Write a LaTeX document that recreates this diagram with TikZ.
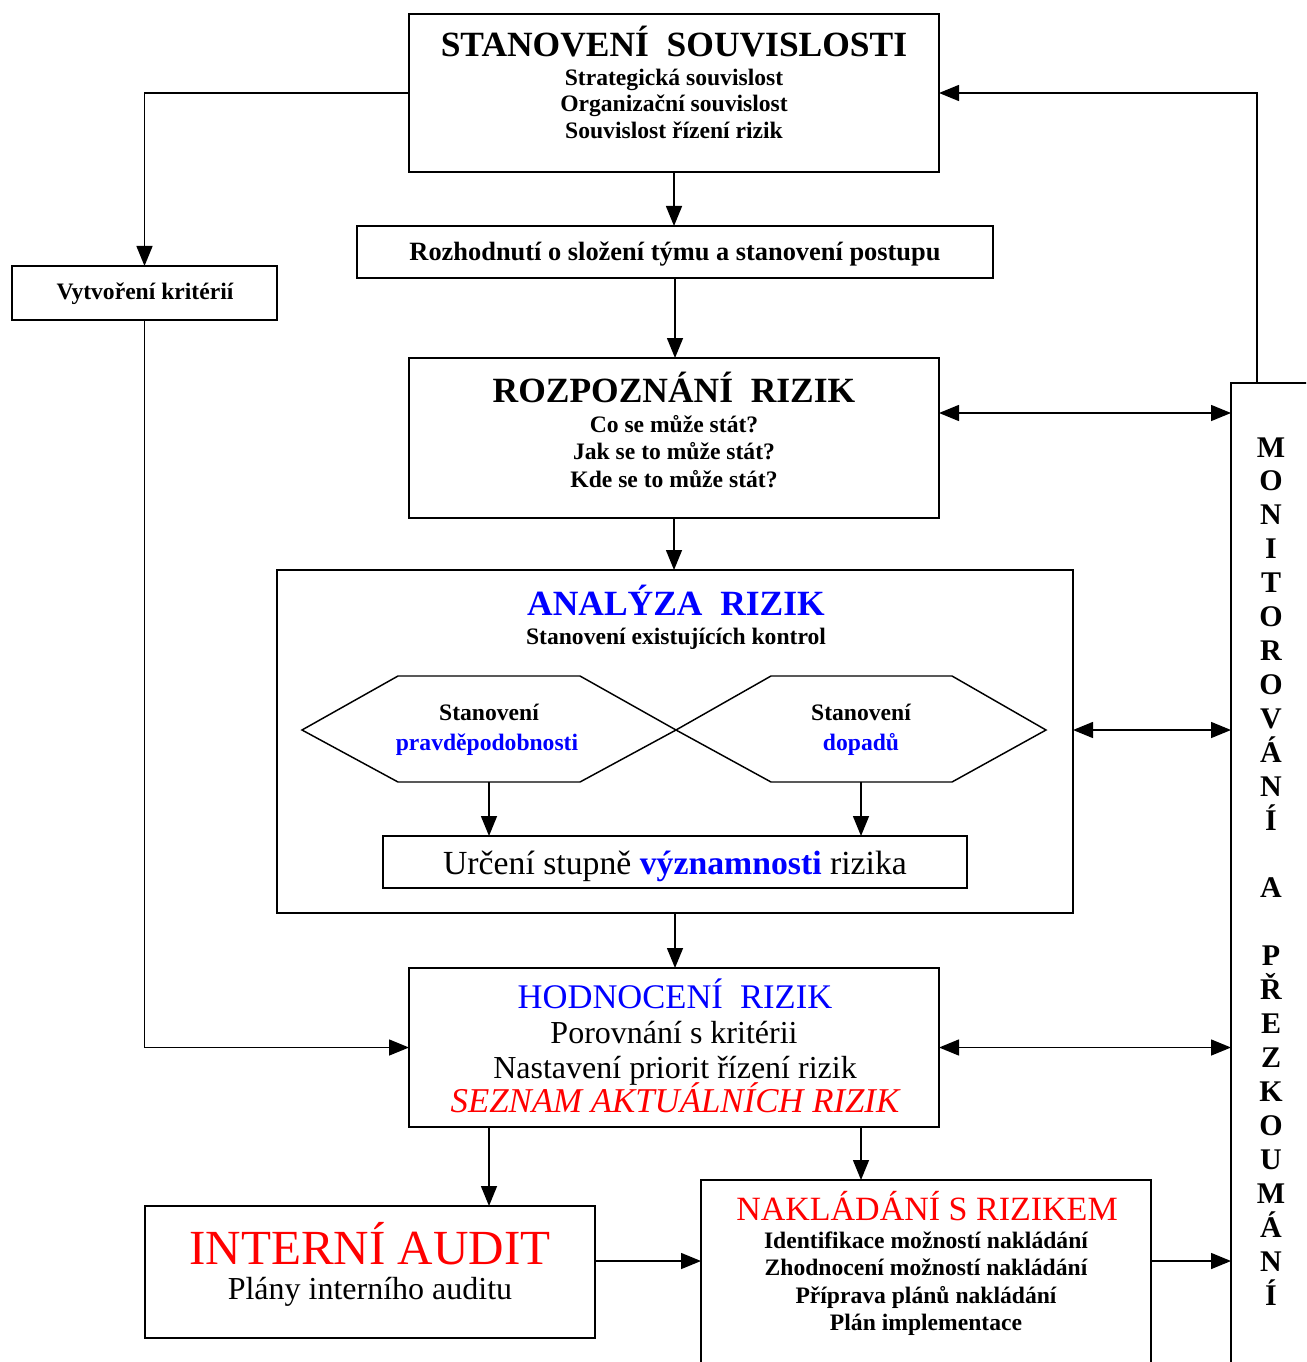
\documentclass[tikz,border=0pt]{standalone}
\usepackage{fontspec}
\setmainfont{Liberation Serif}
\usetikzlibrary{arrows.meta}
\definecolor{rblue}{RGB}{0,0,255}
\definecolor{rred}{RGB}{255,0,0}
\newcommand\fs[1]{\fontsize{#1}{#1}\selectfont}
\newcommand\rbox[5]{\node[box, minimum width={(#4-#2)*0.75pt}, minimum height={(#5-#3)*0.75pt}] (#1) at ({(#2+#4)/2},{(#3+#5)/2}) {};}
\tikzset{
  x=0.75pt, y=-0.75pt,
  box/.style={draw, line width=1.5pt, inner sep=0pt, outer sep=0pt},
  hexa/.style={draw, line width=1.1pt, line join=miter},
  arr/.style={line width=1.1pt, -{Triangle[length=15pt,width=12pt]}},
  darr/.style={line width=1.1pt, {Triangle[length=15pt,width=12pt]}-{Triangle[length=15pt,width=12pt]}},
  txt/.style={inner sep=0pt, anchor=base},
  small/.style={txt, font=\bfseries\fs{17.7pt}},
  big/.style={txt, font=\bfseries\fs{26.6pt}},
}
\begin{document}
\begin{tikzpicture}
\useasboundingbox (0,0) rectangle (1306,1362);
\fill[white] (0,0) rectangle (1306,1362);
\clip (0,0) rectangle (1306,1362);

% boxes
\rbox{sou}{409}{14}{939}{172}
\rbox{roz}{357}{226}{993}{278}
\rbox{vyt}{12}{266}{277}{320}
\rbox{rzp}{409}{358}{939}{518}
\rbox{ana}{277}{570}{1073}{913}
\rbox{urc}{383}{836}{967}{888}
\rbox{hod}{409}{968}{939}{1127}
\rbox{aud}{145}{1206}{595}{1338}
\rbox{nak}{701}{1180}{1151}{1420}
\rbox{mon}{1231}{383}{1400}{1420}

% hexagons
\draw[hexa] (302,730) -- (398,676) -- (580,676) -- (676,730) -- (580,782) -- (398,782) -- cycle;
\draw[hexa] (676,730) -- (771,676) -- (952,676) -- (1046,730) -- (952,782) -- (771,782) -- cycle;

% helper coordinates
\coordinate (hexL) at (489,782);
\coordinate (hexR) at (861,782);
\coordinate (cxA) at (489,0);
\coordinate (cxB) at (861,0);
\coordinate (cxM) at (1257,0);
\coordinate (cyR) at (0,413);
\coordinate (cyA) at (0,730);
\coordinate (cyN) at (0,1261);

% texts
\node[big] (t1) at (674,57) {STANOVENÍ\ \ SOUVISLOSTI};
\node[small] (t1a) at (674,86) {Strategická souvislost};
\node[small] (t1b) at (674,112) {Organizační souvislost};
\node[small] (t1c) at (674,139) {Souvislost řízení rizik};

\node[txt, font=\bfseries\fs{19.8pt}] (t2) at (675,261) {Rozhodnutí o složení týmu a stanovení postupu};
\node[small] (t3) at (145,300) {Vytvoření kritérií};

\node[big] (t4) at (674,402) {ROZPOZNÁNÍ\ \ RIZIK};
\node[small] (t4a) at (674,432) {Co se může stát?};
\node[small] (t4b) at (674,459) {Jak se to může stát?};
\node[small] (t4c) at (674,487) {Kde se to může stát?};

\node[big, text=rblue] (t5) at (676,615) {ANALÝZA\ \ RIZIK};
\node[small] (t5a) at (676,644) {Stanovení existujících kontrol};
\node[small] (h1a) at (489,720) {Stanovení};
\node[small, text=rblue] (h1b) at (487,750) {pravděpodobnosti};
\node[small] (h2a) at (861,720) {Stanovení};
\node[small, text=rblue] (h2b) at (861,750) {dopadů};
\node[txt, font=\fs{25.3pt}] (t6) at (675,874) {Určení stupně \textcolor{rblue}{\bfseries významnosti} rizika};

\node[txt, font=\fs{25.9pt}, text=rblue] (t7) at (675,1008) {HODNOCENÍ\ \ RIZIK};
\node[txt, font=\fs{24pt}] (t7a) at (674,1043) {Porovnání s kritérii};
\node[txt, font=\fs{24pt}] (t7b) at (675,1078) {Nastavení priorit řízení rizik};
\node[txt, font=\itshape\fs{26.1pt}, text=rred] (t7c) at (675,1112) {SEZNAM AKTUÁLNÍCH RIZIK};

\node[txt, font=\fs{36.8pt}, text=rred] (t8) at (370,1264) {INTERNÍ AUDIT};
\node[txt, font=\fs{24pt}] (t8a) at (370,1299) {Plány interního auditu};

\node[txt, font=\fs{25.5pt}, text=rred] (t9) at (927,1220) {NAKLÁDÁNÍ S RIZIKEM};
\node[small] (t9a) at (926,1248) {Identifikace možností nakládání};
\node[small] (t9b) at (926,1275) {Zhodnocení možností nakládání};
\node[small] (t9c) at (926,1303) {Příprava plánů nakládání};
\node[small] (t9d) at (926,1330) {Plán implementace};

\foreach \l [count=\i] in {M,O,N,I,T,O,R,O,V,Á,N,Í,{},A,{},P,Ř,E,Z,K,O,U,M,Á,N,Í}
  \node[txt, font=\bfseries\fs{22.5pt}] (m\i) at (1271,{457+(\i-1)*33.92}) {\l};

% connectors
\draw[arr] (sou.south) -- (sou.south |- roz.north);
\draw[arr] (roz.south) -- (roz.south |- rzp.north);
\draw[arr] (rzp.south) -- (rzp.south |- ana.north);
\draw[arr] (ana.south) -- (ana.south |- hod.north);
\draw[arr] (sou.west) -| (vyt.north);
\draw[arr] (vyt.south) |- (hod.west);
\draw[arr] (hexL) -- (hexL |- urc.north);
\draw[arr] (hexR) -- (hexR |- urc.north);
\draw[arr] (hod.south -| cxA) -- (aud.north -| cxA);
\draw[arr] (hod.south -| cxB) -- (nak.north -| cxB);
\draw[arr] (aud.east |- cyN) -- (nak.west |- cyN);
\draw[arr] (nak.east |- cyN) -- (mon.west |- cyN);
\draw[arr] (mon.north -| cxM) |- (sou.east);
\draw[darr] (rzp.east |- cyR) -- (mon.west |- cyR);
\draw[darr] (ana.east |- cyA) -- (mon.west |- cyA);
\draw[darr] (hod.east) -- (hod.east -| mon.west);
\end{tikzpicture}
\end{document}
